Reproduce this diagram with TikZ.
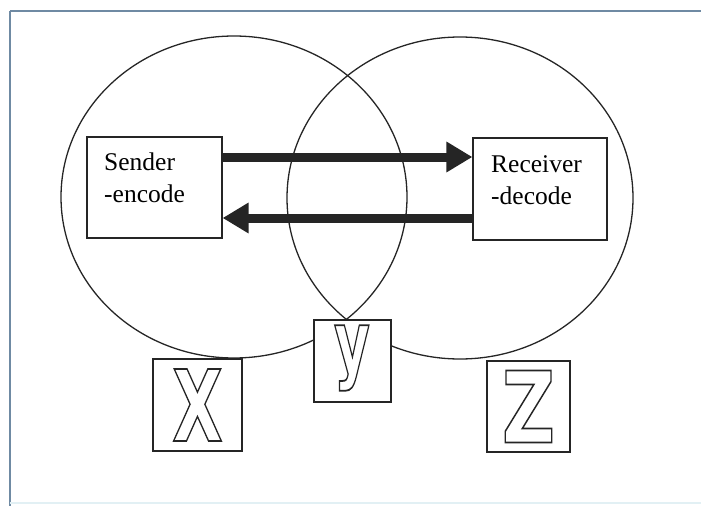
\documentclass[tikz,border=0pt]{standalone}
\usepackage{fontspec}
\usepackage{graphicx}
\setmainfont{Liberation Serif}
\newfontfamily\letterfont{DejaVu Sans}
\usetikzlibrary{arrows.meta}
\newcommand{\outlinetext}[1]{\special{pdf:literal direct 1 Tr 1.8 w}#1\special{pdf:literal direct 0 Tr 0.4 w}}
\definecolor{framecol}{HTML}{6F8AA3}
\definecolor{faintcol}{HTML}{E2F0F4}
\definecolor{inkcol}{HTML}{252525}
\tikzset{
  circ/.style={draw=inkcol, line width=1.3pt},
  box/.style={draw=inkcol, line width=1.2pt, fill=white, inner sep=0pt, rectangle},
  lbl/.style={inner sep=0pt, align=left, font=\fontsize{25.5}{32}\selectfont, text=black},
  letterbox/.style={draw=inkcol, line width=1.2pt, fill=white, inner sep=0pt, rectangle},
  letter/.style={inner sep=0pt, text=inkcol},
  bigarrow/.style={draw=inkcol, line width=9pt, -{Triangle[length=26pt,width=29pt]}},
  framerule/.style={draw=framecol, line width=1.6pt},
}
\begin{document}
\begin{tikzpicture}[x=1pt,y=-1pt]
\useasboundingbox (0,0) rectangle (701,506);
% frame
\draw[framerule] (10,11) -- (701,11);
\draw[framerule, line width=1.2pt] (10,11) -- (10,506);
\draw[draw=faintcol, line width=1.5pt] (10,503) -- (701,503);
% circles
\draw[circ] (234,197) ellipse [x radius=173, y radius=161];
\draw[circ] (460,198) ellipse [x radius=173, y radius=161];
% boxes
\node[box, minimum width=135pt, minimum height=101pt] (sender) at (154.5,187.5) {};
\node[box, minimum width=134pt, minimum height=102pt] (receiver) at (540,189) {};
\node[lbl, anchor=north west] (sendertxt) at (104,152.5) {Sender\\-encode};
\node[lbl, anchor=north west] (receivertxt) at (491,155.5) {Receiver\\-decode};
% arrows
\coordinate (topy) at (0,157);
\coordinate (boty) at (0,218);
\draw[bigarrow] (sender.east |- topy) -- (receiver.west |- topy);
\draw[bigarrow] (receiver.west |- boty) -- (sender.east |- boty);
% letter boxes
\node[letterbox, minimum width=89pt, minimum height=92pt] (xbox) at (197.5,405) {};
\node[letterbox, minimum width=77pt, minimum height=82pt] (ybox) at (352.5,361) {};
\node[letterbox, minimum width=83pt, minimum height=91pt] (zbox) at (528.5,406.5) {};
\node[letter] (xlet) at (xbox.center) {\outlinetext{\scalebox{0.66}[1]{\letterfont\bfseries\fontsize{99}{99}\selectfont X}}};
\node[letter] (ylet) at (352,358) {\outlinetext{\scalebox{0.64}[1]{\letterfont\bfseries\fontsize{86}{86}\selectfont y}}};
\node[letter] (zlet) at (zbox.center) {\outlinetext{\scalebox{0.74}[1]{\letterfont\bfseries\fontsize{99}{99}\selectfont Z}}};
\end{tikzpicture}
\end{document}
